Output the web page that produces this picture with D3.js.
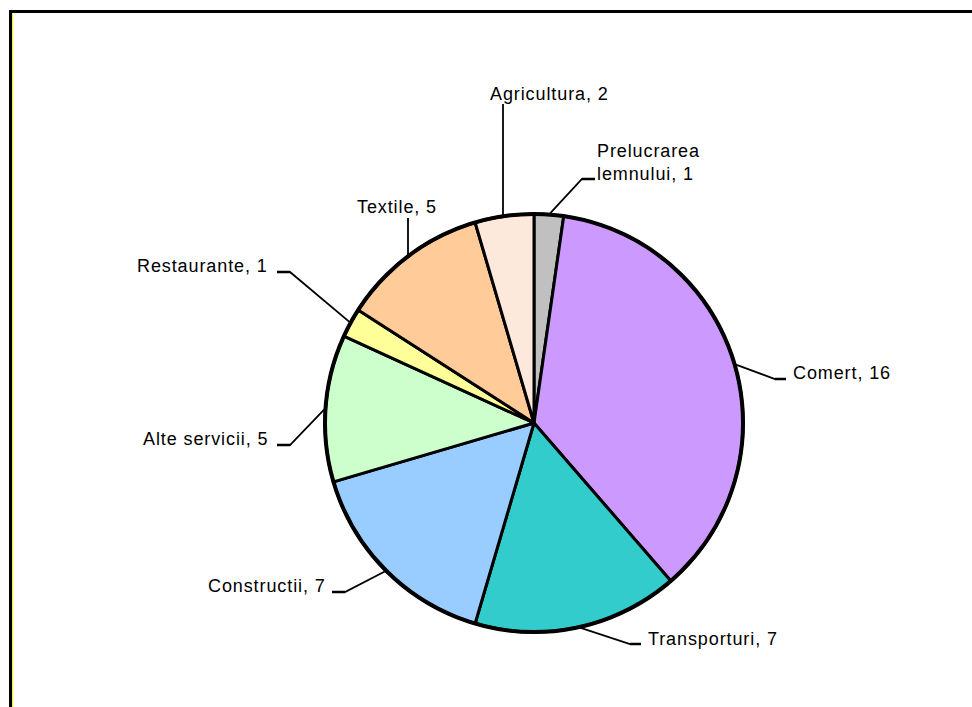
<!DOCTYPE html>
<html>
<head>
<meta charset="utf-8">
<script src="https://cdn.jsdelivr.net/npm/d3@7"></script>
<style>
  html, body { margin: 0; padding: 0; background: #fff; }
  svg { display: block; }
  text { font-family: "Liberation Sans", Arial, sans-serif; font-size: 18px; letter-spacing: 0.9px; fill: #000; }
</style>
</head>
<body>
<script>
// ---- data ----
const categories = ["Prelucrarea lemnului", "Comert", "Transporturi", "Constructii", "Alte servicii", "Restaurante", "Textile", "Agricultura"];
const values = [1, 16, 7, 7, 5, 1, 5, 2];
const labelLines = [
  ["Prelucrarea", "lemnului, 1"],
  ["Comert, 16"],
  ["Transporturi, 7"],
  ["Constructii, 7"],
  ["Alte servicii, 5"],
  ["Restaurante, 1"],
  ["Textile, 5"],
  ["Agricultura, 2"]
];
const colors = ["#C0C0C0", "#CC99FF", "#33CCCC", "#99CCFF", "#CCFFCC", "#FFFF99", "#FFCC99", "#FCE9DB"];

// ---- layout (positions, not data) ----
const W = 972, H = 707;
const cx = 534, cy = 423, R = 209;
const labelLayout = [
  { tx: 597, ty: 157, lh: 23, pts: [[582, 179], [595, 179]] },
  { tx: 793, ty: 379, lh: 0, pts: [[775, 379], [786, 379]] },
  { tx: 648, ty: 645, lh: 0, pts: [[630, 644], [641, 644]] },
  { tx: 208, ty: 592, lh: 0, pts: [[345, 592], [332, 592]] },
  { tx: 143, ty: 445, lh: 0, pts: [[290, 445], [277, 445]] },
  { tx: 137, ty: 272, lh: 0, pts: [[290, 272], [277, 272]] },
  { tx: 357, ty: 213, lh: 0, pts: [[408, 218]], edgeX: 408 },
  { tx: 490, ty: 100, lh: 0, pts: [[503, 104]], edgeX: 503 }
];

const svg = d3.select("body").append("svg").attr("width", W).attr("height", H);

// frame
svg.append("rect").attr("x", 9).attr("y", 10).attr("width", W - 9).attr("height", 3).attr("fill", "#000");
svg.append("rect").attr("x", 9).attr("y", 10).attr("width", 3).attr("height", H - 10).attr("fill", "#000");
svg.append("rect").attr("x", 12).attr("y", 13).attr("width", 1).attr("height", H - 13).attr("fill", "#FFFF00");

const data = categories.map((c, i) => ({ name: c, value: values[i], color: colors[i], lines: labelLines[i], lay: labelLayout[i] }));

const pie = d3.pie().sort(null).value(d => d.value).startAngle(0).endAngle(2 * Math.PI);
const arcs = pie(data);
const arc = d3.arc().innerRadius(0).outerRadius(R);

const g = svg.append("g").attr("transform", `translate(${cx},${cy})`);

g.selectAll("path.slice").data(arcs).enter().append("path")
  .attr("class", "slice")
  .attr("d", arc)
  .attr("fill", d => d.data.color)
  .attr("stroke", "#000")
  .attr("stroke-width", 3)
  .attr("stroke-linejoin", "round");

// outer ring
g.append("circle").attr("r", R).attr("fill", "none").attr("stroke", "#000").attr("stroke-width", 4);

// leader lines
arcs.forEach(a => {
  const lay = a.data.lay;
  let sx, sy;
  if (lay.edgeX !== undefined) {
    sx = lay.edgeX;
    const dx = sx - cx;
    sy = cy - Math.sqrt(R * R - dx * dx);
  } else {
    const mid = (a.startAngle + a.endAngle) / 2;
    sx = cx + R * Math.sin(mid);
    sy = cy - R * Math.cos(mid);
  }
  const pts = [[sx, sy]].concat(lay.pts);
  svg.append("path")
    .attr("d", d3.line()(pts))
    .attr("fill", "none")
    .attr("stroke", "#000")
    .attr("stroke-width", 1.8);
  if (lay.pts.length > 1) {
    svg.append("path")
      .attr("d", d3.line()(lay.pts))
      .attr("fill", "none")
      .attr("stroke", "#000")
      .attr("stroke-width", 2.5);
  }
});

// labels
data.forEach(d => {
  const t = svg.append("text").attr("x", d.lay.tx).attr("y", d.lay.ty);
  d.lines.forEach((ln, j) => {
    t.append("tspan").attr("x", d.lay.tx).attr("y", d.lay.ty + j * d.lay.lh).text(ln);
  });
});
</script>
</body>
</html>
